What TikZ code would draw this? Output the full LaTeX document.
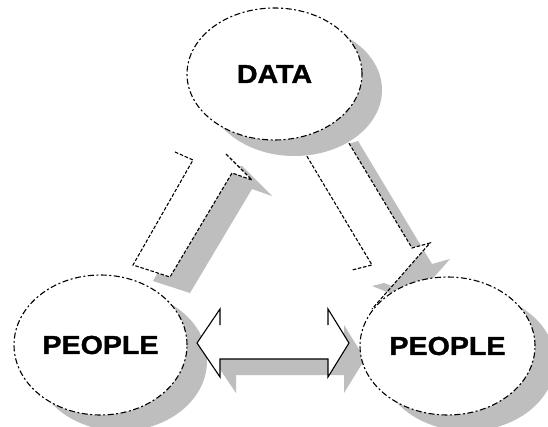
\documentclass[tikz,border=0pt]{standalone}
\usepackage{fontspec}
\setmainfont{Liberation Sans}
\newfontfamily\labelfont[FakeBold=1.2]{Liberation Sans Bold}
\usetikzlibrary{shapes.geometric}
\definecolor{shadowgray}{RGB}{190,190,190}
\tikzset{
  bubble/.style={ellipse, draw=black, fill=white, line width=1.1pt,
    dash pattern=on 6pt off 2.5pt on 2pt off 2.5pt, inner sep=0pt,
    font=\fontsize{26}{30}\selectfont\labelfont},
  blockedge/.style={draw=black, line width=1.1pt, dash pattern=on 3.5pt off 1.8pt, line join=miter},
  flatedge/.style={draw=black, line width=1.1pt, line join=miter},
  shadowfill/.style={fill=shadowgray},
  blockfill/.style={fill=white}
}
\newcommand{\widelabel}[1]{\scalebox{1.1}[1]{#1}}

\begin{document}
\begin{tikzpicture}[x=1pt,y=-1pt]
\useasboundingbox (0,0) rectangle (548,427);
\clip (0,0) rectangle (548,427);
\fill[white] (0,0) rectangle (548,427);

% block arrow rising from the left PEOPLE towards DATA
\begin{scope}[shift={(20,16)}]
  \fill[shadowfill] (133,265)--(170,277)--(232,173)--(252,180)--(222,150)--(175,152)--(193,160)--cycle;
\end{scope}
\fill[blockfill] (133,265)--(170,277)--(232,173)--(252,180)--(222,150)--(175,152)--(193,160)--cycle;
\draw[blockedge] (175,152)--(193,160)--(133,265)--(170,277)--(232,173)--(252,180)--(226,154);

% block arrow descending from DATA to the right PEOPLE
\begin{scope}[shift={(20,16)}]
  \fill[shadowfill] (296,138)--(372,265)--(352,270)--(392,286)--(430,243)--(412,248)--(338,125)--cycle;
\end{scope}
\fill[blockfill] (296,138)--(372,265)--(352,270)--(392,286)--(430,243)--(412,248)--(338,125)--cycle;
\draw[blockedge] (296,138)--(372,265)--(352,270);
\draw[blockedge] (338,125)--(412,248)--(430,243)--(372,309);

% shadows of the three ellipses
\fill[shadowfill] (294.5,90) ellipse [x radius=87.5pt, y radius=66pt];
\fill[shadowfill] (120.5,361) ellipse [x radius=86.5pt, y radius=70pt];
\fill[shadowfill] (467.5,362) ellipse [x radius=87.5pt, y radius=69pt];

% double-headed block arrow between the two PEOPLE
\begin{scope}[shift={(16,16)}]
  \fill[shadowfill] (197,343)--(220,309)--(220,325)--(328,325)--(328,309)--(349,343)--(328,377)--(328,359)--(220,359)--(220,377)--cycle;
\end{scope}
\fill[blockfill] (197,343)--(220,309)--(220,325)--(328,325)--(328,309)--(349,343)--(328,377)--(328,359)--(220,359)--(220,377)--cycle;
\draw[flatedge] (220,325)--(220,309)--(197,343)--(220,377)--(220,359)--(328,359)--(328,377)--(349,343)--(328,309)--(328,325);

% the three ellipses
\node[bubble, minimum width=175pt, minimum height=132pt] (data) at (274.5,74) {\widelabel{DATA}};
\node[bubble, minimum width=173pt, minimum height=140pt] (peopleleft) at (100.5,345) {\widelabel{PEOPLE}};
\node[bubble, minimum width=175pt, minimum height=138pt] (peopleright) at (447.5,346) {\widelabel{PEOPLE}};
\end{tikzpicture}
\end{document}
